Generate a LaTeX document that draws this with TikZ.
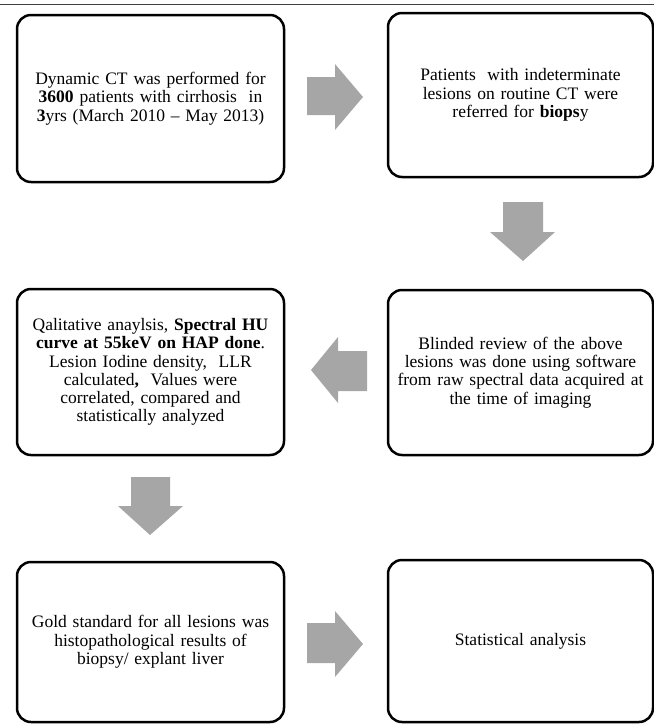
\documentclass[tikz,border=0pt]{standalone}
\usepackage{fontspec}
\setmainfont{Liberation Serif}
\usepackage{tikz}
\usetikzlibrary{positioning}
\definecolor{arrowgray}{RGB}{166,166,166}
\tikzset{stepbox/.style={draw=black, line width=2.5pt, rounded corners=14pt, align=center, text width=250pt, inner sep=0pt, font=\fontsize{17.5}{18.3}\selectfont}}
\tikzset{blockarrow/.style={fill=arrowgray, draw=none}}

\begin{document}
\begin{tikzpicture}[x=1pt,y=-1pt]
\useasboundingbox (0,0) rectangle (654,724);
\draw[black!75, line width=1pt] (0,4) -- (654,4);
% boxes
\node[stepbox, minimum width=267pt, minimum height=167pt] (ct) at (150.5,98.5) {Dynamic CT was performed for\\\textbf{3600} patients with cirrhosis\ \ in\\\textbf{3}yrs (March 2010 -- May 2013)};
\node[stepbox, minimum width=265pt, minimum height=164pt] (biopsy) at (520.5,95) {Patients\ \ with indeterminate\\lesions on routine CT were\\referred for \textbf{biops}y};
\node[stepbox, minimum width=265pt, minimum height=165pt] (review) at (520.5,372.5) {Blinded review of the above\\lesions was done using software\\from raw spectral data acquired at\\the time of imaging};
\node[stepbox, minimum width=267pt, minimum height=166pt] (analysis) at (150.5,372) {Qalitative anaylsis, \textbf{Spectral HU}\\\textbf{curve at 55keV on HAP done}.\\Lesion Iodine density,\ \ LLR\\calculated\textbf{,}\ \ Values were\\correlated, compared and\\statistically analyzed\par\vspace{24pt}};
\node[stepbox, minimum width=267pt, minimum height=160pt] (gold) at (150.5,642) {Gold standard for all lesions was\\histopathological results of\\biopsy/ explant liver};
\node[stepbox, minimum width=265pt, minimum height=162pt] (stats) at (520.5,641) {Statistical analysis};
% block arrows
\fill[blockarrow] (307,77) -- (335,77) -- (335,64) -- (363,97) -- (335,130) -- (335,115) -- (307,115) -- cycle;
\fill[blockarrow] (503,202) -- (543,202) -- (543,232) -- (555,232) -- (523,261) -- (490,232) -- (503,232) -- cycle;
\fill[blockarrow] (367,351) -- (338,351) -- (338,337) -- (311,370) -- (338,403) -- (338,391) -- (367,391) -- cycle;
\fill[blockarrow] (131,477) -- (170,477) -- (170,506) -- (183,506) -- (150,535) -- (118,506) -- (131,506) -- cycle;
\fill[blockarrow] (307,623) -- (335,623) -- (335,611) -- (363,644) -- (335,677) -- (335,663) -- (307,663) -- cycle;
\end{tikzpicture}
\end{document}
